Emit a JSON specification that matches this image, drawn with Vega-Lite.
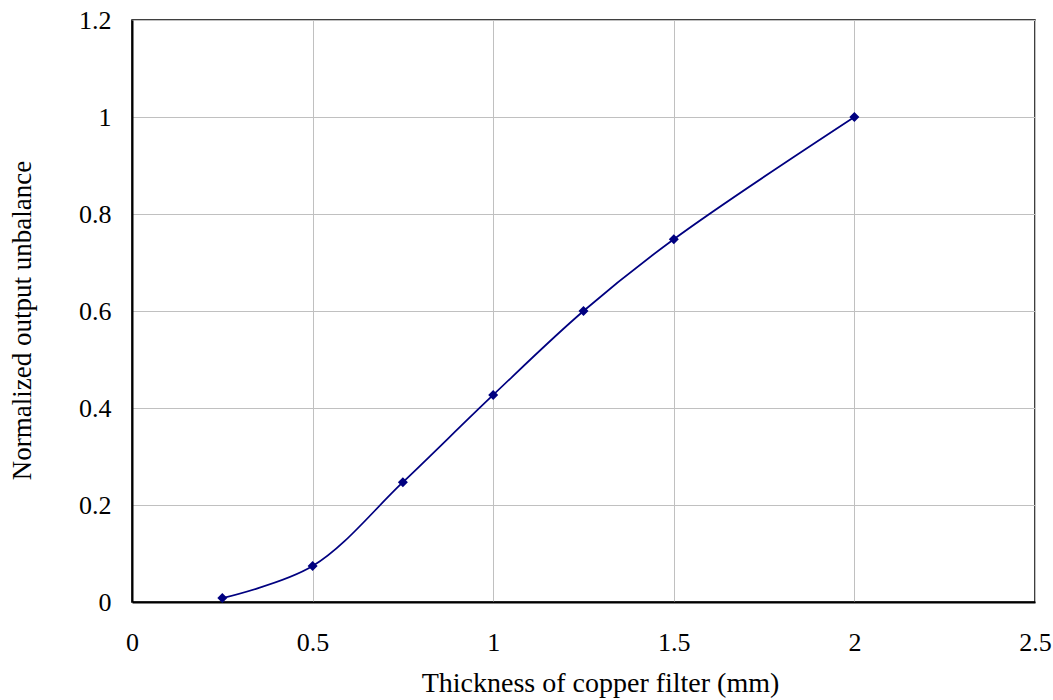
{
  "$schema": "https://vega.github.io/schema/vega-lite/v6.json",
  "autosize": {"type": "none"},
  "padding": {"left": 132, "top": 20, "right": 18, "bottom": 98},
  "width": 903,
  "height": 582,
  "background": "white",
  "config": {
    "view": {"stroke": "black", "strokeWidth": 1.5},
    "font": "Liberation Serif"
  },
  "data": {
    "values": [
      {"t": 0.25, "u": 0.008},
      {"t": 0.5, "u": 0.074},
      {"t": 0.75, "u": 0.247},
      {"t": 1.0, "u": 0.427},
      {"t": 1.25, "u": 0.6},
      {"t": 1.5, "u": 0.748},
      {"t": 2.0, "u": 1.0}
    ]
  },
  "encoding": {
    "x": {
      "field": "t", "type": "quantitative",
      "scale": {"domain": [0, 2.5], "nice": false},
      "axis": {
        "title": "Thickness of copper filter (mm)",
        "values": [0, 0.5, 1, 1.5, 2, 2.5],
        "format": "~g",
        "ticks": false,
        "domainColor": "black", "domainWidth": 2,
        "gridColor": "#c0c0c0", "gridWidth": 1,
        "labelFont": "Liberation Serif", "labelFontSize": 26, "labelColor": "black",
        "labelPadding": 27, "labelFlush": false,
        "titleFont": "Liberation Serif", "titleFontSize": 28, "titleFontWeight": "normal", "titleColor": "black",
        "titlePadding": 14,
        "titleX": 468
      }
    },
    "y": {
      "field": "u", "type": "quantitative",
      "scale": {"domain": [0, 1.2], "nice": false},
      "axis": {
        "title": "Normalized output unbalance",
        "values": [0, 0.2, 0.4, 0.6, 0.8, 1, 1.2],
        "format": "~g",
        "ticks": false,
        "domainColor": "black", "domainWidth": 2,
        "gridColor": "#c0c0c0", "gridWidth": 1,
        "labelFont": "Liberation Serif", "labelFontSize": 26, "labelColor": "black",
        "labelPadding": 21, "labelFlush": false,
        "titleFont": "Liberation Serif", "titleFontSize": 27, "titleFontWeight": "normal", "titleColor": "black",
        "titlePadding": 42,
        "titleY": 300
      }
    }
  },
  "layer": [
    {"mark": {"type": "line", "interpolate": "catmull-rom", "color": "#000080", "strokeWidth": 1.75}},
    {"mark": {"type": "point", "shape": "diamond", "filled": true, "color": "#000080", "size": 100, "opacity": 1}}
  ]
}
